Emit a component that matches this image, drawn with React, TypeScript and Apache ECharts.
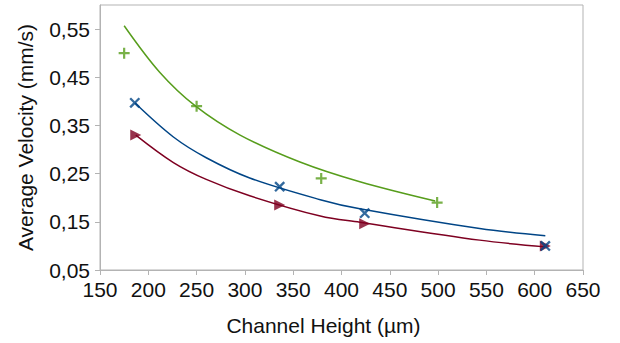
import React, { useEffect, useRef } from "react";
import * as echarts from "echarts";

// Measured points
const greenPoints: [number, number][] = [[175, 0.5], [250, 0.39], [379, 0.24], [499, 0.19]];
const bluePoints: [number, number][] = [[186, 0.397], [336, 0.223], [424, 0.168], [611, 0.1]];
const redPoints: [number, number][] = [[187, 0.33], [336, 0.185], [424, 0.146], [611, 0.1]];

// Trend curves
const greenTrend: [number, number][] = [[175, 0.557], [212, 0.46], [249, 0.39], [295, 0.33], [357, 0.274], [419, 0.233], [497, 0.193]];
const blueTrend: [number, number][] = [[186, 0.397], [226, 0.326], [260, 0.283], [305, 0.241], [378, 0.196], [419, 0.177], [543, 0.136], [611, 0.121]];
const redTrend: [number, number][] = [[187, 0.33], [226, 0.273], [260, 0.238], [305, 0.204], [378, 0.162], [419, 0.149], [543, 0.112], [611, 0.098]];

const yTicks = [0.05, 0.15, 0.25, 0.35, 0.45, 0.55];

const GREEN = "#579d1c";
const BLUE = "#004586";
const RED = "#7e0021";

const PLUS = "path://M4,0H6V4H10V6H6V10H4V6H0V4H4Z";
const CROSS = "path://M4.1,0H5.9V4.1H10V5.9H5.9V10H4.1V5.9H0V4.1H4.1Z";
const TRI = "path://M0,0L10,5L0,10Z";

export default function App() {
  const ref = useRef<HTMLDivElement>(null);
  useEffect(() => {
    const chart = echarts.init(ref.current!, null, { renderer: "svg" });
    const font = "Liberation Sans";
    const trend = (data: [number, number][], color: string) => ({
      type: "line",
      data,
      smooth: 0.35,
      showSymbol: false,
      lineStyle: { color, width: 1.5 },
      z: 2,
    });
    chart.setOption({
      animation: false,
      backgroundColor: "#ffffff",
      grid: { left: 100, right: 37, top: 5, bottom: 73, show: true, borderColor: "#b3b3b3", borderWidth: 1 },
      xAxis: {
        type: "value",
        min: 150,
        max: 650,
        interval: 50,
        name: "Channel Height (µm)",
        nameLocation: "middle",
        nameGap: 45,
        nameTextStyle: { fontFamily: font, fontSize: 21, color: "#111111", padding: [0, 36, 0, 0] },
        axisLine: { show: true, lineStyle: { color: "#b3b3b3" } },
        axisTick: { show: true, length: 5, lineStyle: { color: "#b3b3b3" } },
        axisLabel: { fontFamily: font, fontSize: 21, color: "#111111", margin: 9 },
        splitLine: { show: false },
      },
      yAxis: {
        type: "value",
        min: 0.05,
        max: 0.6,
        name: "Average Velocity (mm/s)",
        nameLocation: "middle",
        nameGap: 64,
        nameTextStyle: { fontFamily: font, fontSize: 21, color: "#111111" },
        axisLine: { show: true, lineStyle: { color: "#b3b3b3" } },
        axisTick: { show: true, length: 5, lineStyle: { color: "#b3b3b3" }, customValues: yTicks },
        axisLabel: {
          fontFamily: font,
          fontSize: 21,
          color: "#111111",
          margin: 10,
          customValues: yTicks,
          formatter: (v: number) => v.toFixed(2).replace(".", ","),
        },
        splitLine: { show: false },
      },
      series: [
        trend(greenTrend, GREEN),
        trend(blueTrend, BLUE),
        trend(redTrend, RED),
        { type: "scatter", data: greenPoints, symbol: PLUS, symbolSize: 11, itemStyle: { color: GREEN }, z: 3 },
        { type: "scatter", data: redPoints, symbol: TRI, symbolSize: 11, itemStyle: { color: RED }, z: 3 },
        { type: "scatter", data: bluePoints, symbol: CROSS, symbolSize: 13, symbolRotate: 45, itemStyle: { color: BLUE }, z: 4 },
      ],
    });
    return () => chart.dispose();
  }, []);
  return <div ref={ref} style={{ width: 620, height: 343, position: "absolute", left: 0, top: 0 }} />;
}
